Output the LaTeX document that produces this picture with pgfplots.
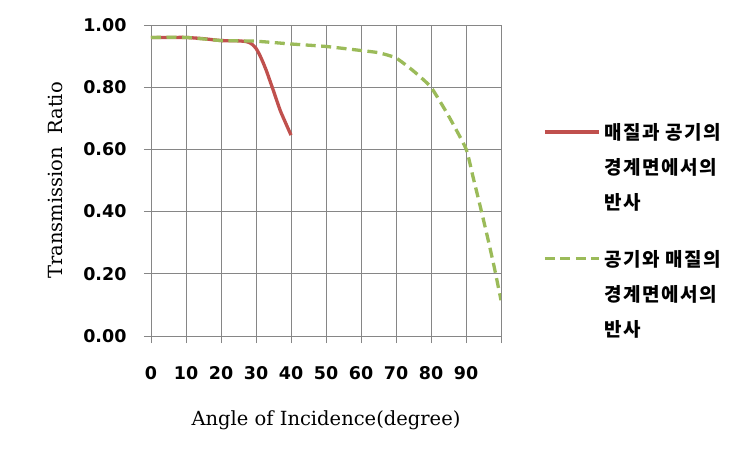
\documentclass[border=0pt]{standalone}
\usepackage{pgfplots}
\pgfplotsset{compat=1.18}
\usepackage{fontspec}
\setmainfont{DejaVu Sans}
\newfontfamily\kr{Noto Sans CJK KR}[LetterSpace=8]
\newfontfamily\ser{DejaVu Serif}
\definecolor{redl}{HTML}{C0504D}
\definecolor{greenl}{HTML}{9BBB59}
\definecolor{gridc}{HTML}{868686}
\newcommand\ls{\rule[-5pt]{0pt}{17pt}}
\pgfplotsset{
  mylegend/.style={
    legend style={anchor=north west,
      draw=none, fill=none, inner sep=0pt, row sep=17.5pt, column sep=4pt,
      font=\kr\bfseries\fontsize{19}{20}\selectfont,
      nodes={inner sep=0pt}},
    legend cell align=left,
    legend image code/.code={\draw[##1] (0pt,0pt) -- (54pt,0pt);},
  },
  base/.style={scale only axis, width=350pt, height=311pt,
    xmin=0, xmax=100, ymin=0, ymax=1},
}
\begin{document}
\begin{tikzpicture}
\begin{axis}[
  base, mylegend,
  legend style={at={(axis description cs:1.12,0.685)}},
  xtick={0,10,20,30,40,50,60,70,80,90,100},
  xticklabels={0,10,20,30,40,50,60,70,80,90,{}},
  ytick={0,0.2,0.4,0.6,0.8,1},
  yticklabel style={/pgf/number format/.cd,fixed,fixed zerofill,precision=2},
  /pgf/number format/assume math mode=true,
  ticklabel style={font=\fontsize{17.5}{18}\selectfont\bfseries},
  grid=major, grid style={gridc, line width=0.7pt},
  axis line style={gridc, line width=0.7pt},
  tick style={gridc, line width=0.7pt},
  tick align=outside, tick pos=left, major tick length=7pt,
  yticklabel shift=14pt, xticklabel shift=20pt,
  xlabel={\ser\fontsize{19.5}{20}\selectfont Angle of Incidence(degree)},
  ylabel={\ser\fontsize{19.5}{20}\selectfont Transmission\ \ Ratio},
  xlabel style={at={(axis description cs:0.5,0)}, anchor=center, yshift=-84pt},
  every axis y label/.append style={at={(axis description cs:-0.274,0.5)}, anchor=center},
]
\addplot[redl, line width=3.3pt, smooth, tension=0.3] coordinates {
 (0,0.960) (5,0.960) (10,0.960) (15,0.956) (20,0.950) (25,0.949)
 (27,0.947) (28,0.944) (29,0.937) (30,0.925) (31,0.905) (32,0.880)
 (33,0.852) (35,0.788) (37,0.723) (40,0.646)};
\addlegendentry{\ls 매질과 공기의}
\addlegendimage{empty legend}
\addlegendentry{\ls 경계면에서의}
\addlegendimage{empty legend}
\addlegendentry{\ls 반사}
\addplot[greenl, line width=3.3pt, dash pattern=on 10pt off 5.5pt, smooth, tension=0.3, forget plot] coordinates {
 (0,0.960) (10,0.960) (20,0.950) (25,0.949) (30,0.948) (40,0.939)
 (50,0.931) (60,0.918) (65,0.911) (70,0.894) (75,0.852) (80,0.800)
 (85,0.708) (90,0.602) (92,0.512) (94,0.420) (96,0.325) (98,0.225)
 (100,0.115)};
\coordinate (O) at (rel axis cs:0,0);
\end{axis}
\begin{axis}[
  base, mylegend, hide axis,
  legend style={at={(axis description cs:1.12,0.277)}},
]
\addlegendimage{greenl, line width=3.3pt, dash pattern=on 10pt off 5.5pt}
\addlegendentry{\ls 공기와 매질의}
\addlegendimage{empty legend}
\addlegendentry{\ls 경계면에서의}
\addlegendimage{empty legend}
\addlegendentry{\ls 반사}
\end{axis}
\path (O) ++(-151pt,-115pt) rectangle ++(752pt,451pt);
\end{tikzpicture}
\end{document}
